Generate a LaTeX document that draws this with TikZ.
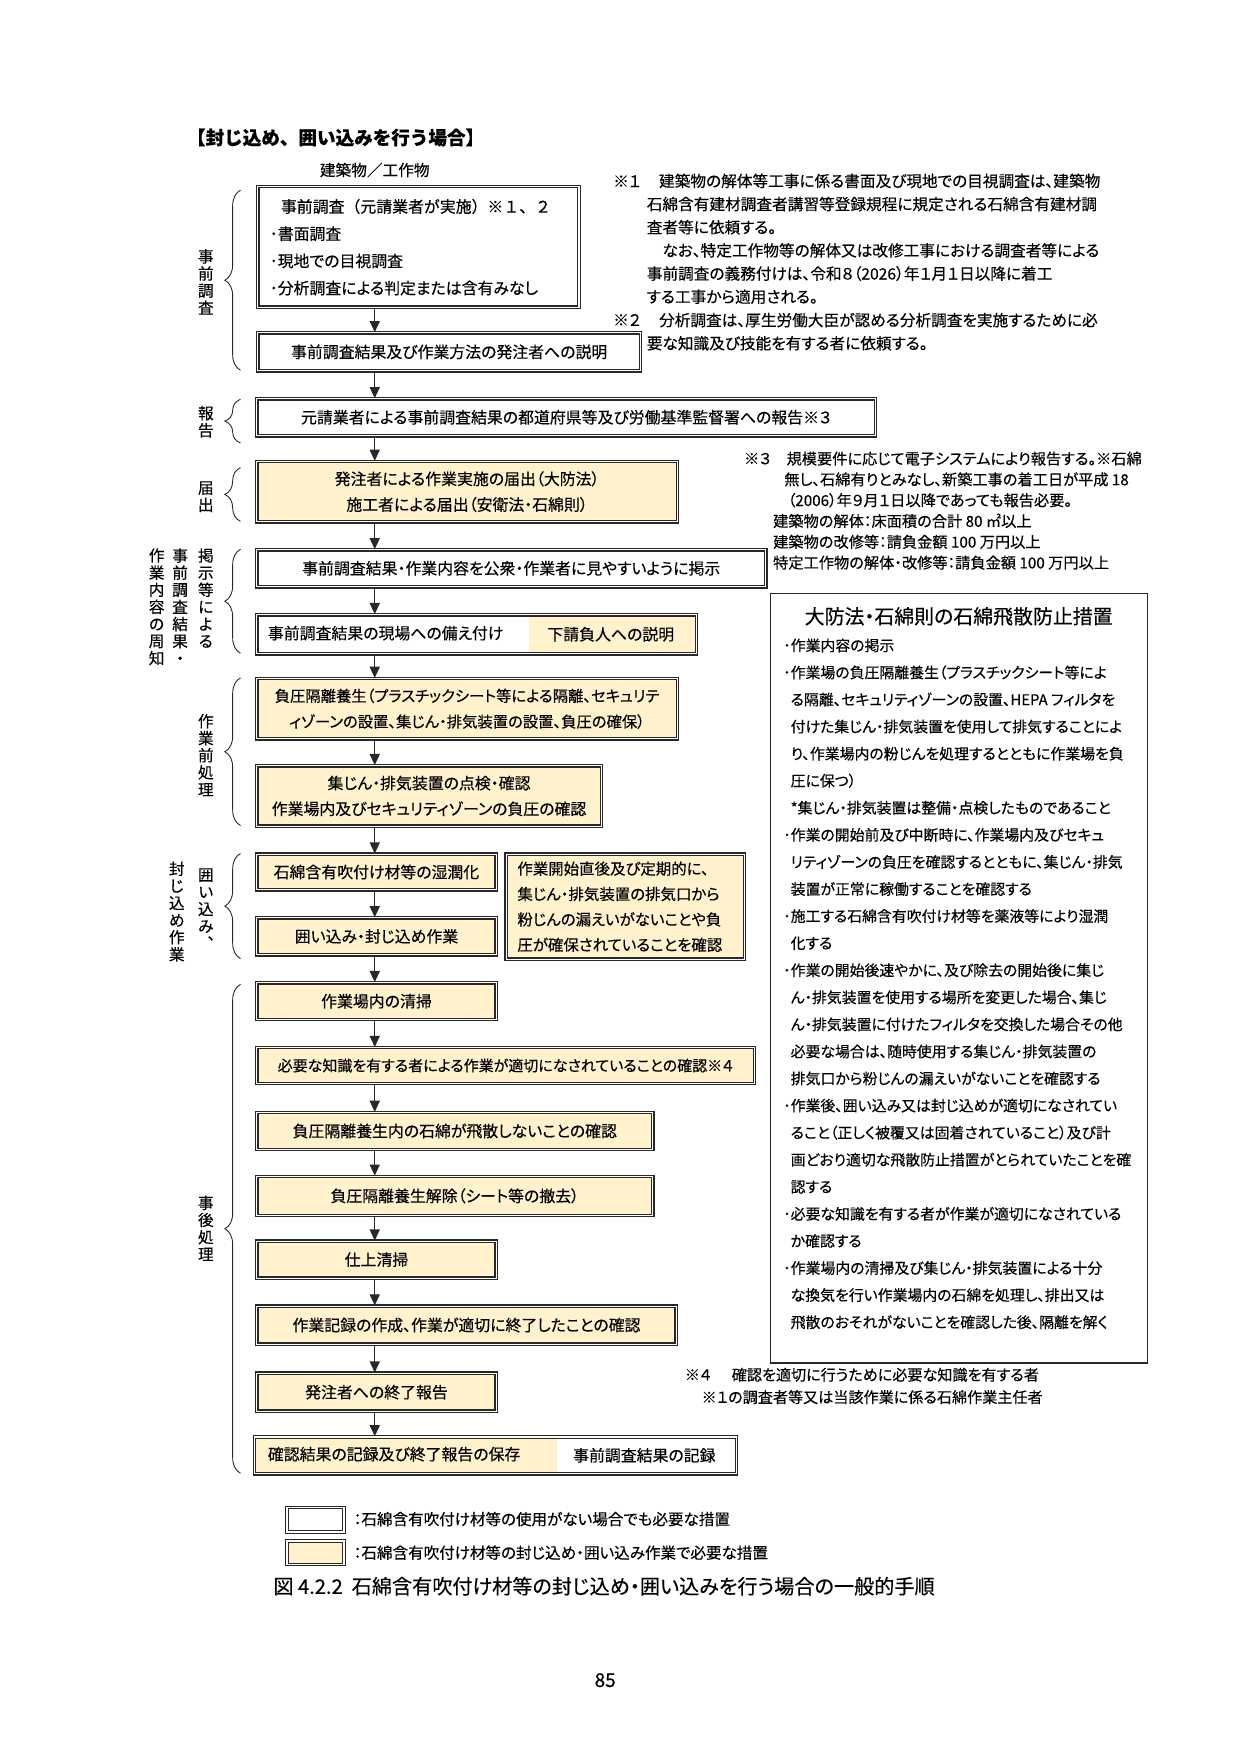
\documentclass[tikz,border=0pt]{standalone}
\usepackage{fontspec}
\setmainfont[RawFeature=+palt, FakeBold=0.3]{Noto Sans CJK JP}
\newfontfamily\jpfull[FakeBold=0.3]{Noto Sans CJK JP}
\usetikzlibrary{arrows.meta}
\usetikzlibrary{decorations.pathreplacing}
\definecolor{boxtan}{RGB}{255,242,204}
\definecolor{boxline}{RGB}{40,40,40}
\newcommand{\fsz}[2]{\fontsize{#1}{#2}\selectfont}

\tikzset{
  box/.style={draw=boxline, line width=1.1pt, double=white, double distance=1pt, fill=white, anchor=north west, inner sep=0pt, font=\fsz{14.2}{23}},
  tanbox/.style={box, fill=boxtan},
  arr/.style={-{Triangle[width=9pt,length=10pt]}, line width=1.3pt, boxline},
  brc/.style={decorate, decoration={brace, amplitude=14pt}, line width=0.8pt, boxline},
  tate/.style={align=center, inner sep=0pt, font=\fsz{14}{15.3}},
  note/.style={anchor=west, align=left, inner sep=0pt}
}

\begin{document}
\begin{tikzpicture}[x=1pt, y=-1pt]
\fill[white] (0,0) rectangle (1107.5,1568);
\useasboundingbox (0,0) rectangle (1107.5,1568);

\node[anchor=west, inner sep=0pt, font=\jpfull\bfseries\fsz{16.6}{18}] (midashi) at (167,123) {【封じ込め、囲い込みを行う場合】};
\node[font=\fsz{14}{16}] (taishou) at (335,152) {建築物／工作物};

\node[box, minimum width=287pt, minimum height=108pt] (chousa) at (230,166) {};
\node[note, font=\fsz{14.2}{24.3}] (chousa-t) at (241,221) {\hspace*{10pt}{\jpfull 事前調査（元請業者が実施）※１、２}\\･書面調査\\･現地での目視調査\\･分析調査による判定または含有みなし};
\node[box, minimum width=342pt, minimum height=34pt] (setsumei) at (230,297) {事前調査結果及び作業方法の発注者への説明};
\node[box, minimum width=553pt, minimum height=33pt] (houkoku) at (229,356) {元請業者による事前調査結果の都道府県等及び労働基準監督署への報告※３};
\node[tanbox, minimum width=376pt, minimum height=54pt, align=center] (todokede) at (229,412) {発注者による作業実施の届出（大防法）\\施工者による届出（安衛法・石綿則）};
\node[box, minimum width=455pt, minimum height=33pt] (keiji) at (229,491) {事前調査結果・作業内容を公衆・作業者に見やすいように掲示};
\node[box, minimum width=393pt, minimum height=35pt, path picture={\fill[boxtan] ([xshift=243pt]path picture bounding box.south west) rectangle (path picture bounding box.north east);}] (sonae) at (229,549) {};
\node[anchor=west, font=\fsz{14.2}{16}] (sonae-l) at (236,566) {事前調査結果の現場への備え付け};
\node[font=\fsz{14.2}{16}] (sonae-r) at (546,567) {下請負人への説明};
\node[tanbox, minimum width=376pt, minimum height=54pt, align=center, font=\fsz{13.7}{23}] (youjou) at (229,606) {負圧隔離養生（プラスチックシート等による隔離、セキュリテ\\ィゾーンの設置、集じん・排気装置の設置、負圧の確保）};
\node[tanbox, minimum width=308pt, minimum height=54pt, align=center] (tenken) at (229,684) {集じん・排気装置の点検・確認\\作業場内及びセキュリティゾーンの負圧の確認};
\node[tanbox, minimum width=214pt, minimum height=32pt] (shitsujun) at (229,763) {石綿含有吹付け材等の湿潤化};
\node[tanbox, minimum width=214pt, minimum height=33pt] (kakoikomi) at (229,820) {囲い込み・封じ込め作業};
\node[tanbox, inner xsep=10pt, text width=193pt, minimum height=94pt, align=left, font=\fsz{13.8}{22.7}] (haiki) at (452,763) {作業開始直後及び定期的に、\\集じん・排気装置の排気口から\\粉じんの漏えいがないことや負\\圧が確保されていることを確認};
\node[tanbox, minimum width=214pt, minimum height=33pt] (seisou) at (229,878) {作業場内の清掃};
\node[tanbox, minimum width=445pt, minimum height=32pt, font=\fsz{13.4}{16}] (tekisetsu) at (229,936) {必要な知識を有する者による作業が適切になされていることの確認※４};
\node[tanbox, minimum width=354pt, minimum height=33pt] (hisan) at (229,994) {負圧隔離養生内の石綿が飛散しないことの確認};
\node[tanbox, minimum width=354pt, minimum height=35pt] (kaijo) at (229,1051) {負圧隔離養生解除（シート等の撤去）};
\node[tanbox, minimum width=214pt, minimum height=33pt] (shiage) at (229,1109) {仕上清掃};
\node[tanbox, minimum width=375pt, minimum height=34pt] (kiroku) at (229,1167) {作業記録の作成、作業が適切に終了したことの確認};
\node[tanbox, minimum width=214pt, minimum height=34pt] (shuuryou) at (229,1227) {発注者への終了報告};
\node[tanbox, minimum width=431pt, minimum height=33pt, path picture={\fill[white] ([xshift=270pt]path picture bounding box.south west) rectangle (path picture bounding box.north east);}] (hozon) at (227,1284) {};
\node[anchor=west, font=\fsz{14.2}{16}] (hozon-l) at (236,1300) {確認結果の記録及び終了報告の保存};
\node[font=\fsz{14.2}{16}] (hozon-r) at (576,1301) {事前調査結果の記録};

\coordinate (ax) at (335,0);
\draw[arr] (chousa.south -| ax) -- (setsumei.north -| ax);
\draw[arr] (setsumei.south -| ax) -- (houkoku.north -| ax);
\draw[arr] (houkoku.south -| ax) -- (todokede.north -| ax);
\draw[arr] (todokede.south -| ax) -- (keiji.north -| ax);
\draw[arr] (keiji.south -| ax) -- (sonae.north -| ax);
\draw[arr] (sonae.south -| ax) -- (youjou.north -| ax);
\draw[arr] (youjou.south -| ax) -- (tenken.north -| ax);
\draw[arr] (tenken.south -| ax) -- (shitsujun.north -| ax);
\draw[arr] (shitsujun.south -| ax) -- (kakoikomi.north -| ax);
\draw[arr] (kakoikomi.south -| ax) -- (seisou.north -| ax);
\draw[arr] (seisou.south -| ax) -- (tekisetsu.north -| ax);
\draw[arr] (tekisetsu.south -| ax) -- (hisan.north -| ax);
\draw[arr] (hisan.south -| ax) -- (kaijo.north -| ax);
\draw[arr] (kaijo.south -| ax) -- (shiage.north -| ax);
\draw[arr] (shiage.south -| ax) -- (kiroku.north -| ax);
\draw[arr] (kiroku.south -| ax) -- (shuuryou.north -| ax);
\draw[arr] (shuuryou.south -| ax) -- (hozon.north -| ax);

\draw[brc] (215,331) -- (215,170);
\draw[brc] (215,396) -- (215,357);
\draw[brc] (215,466) -- (215,418);
\draw[brc] (215,584) -- (215,491);
\draw[brc] (215,738) -- (215,606);
\draw[brc] (215,857) -- (215,763);
\draw[brc] (215,1317) -- (215,880);

\node[tate] (l-chousa) at (184,252) {事\\前\\調\\査};
\node[tate] (l-houkoku) at (184,377) {報\\告};
\node[tate] (l-todokede) at (184,444) {届\\出};
\node[tate, anchor=north] (l-keiji1) at (184,490) {掲\\示\\等\\に\\よ\\る};
\node[tate, anchor=north] (l-keiji2) at (161,490) {事\\前\\調\\査\\結\\果\\・};
\node[tate, anchor=north] (l-keiji3) at (140,490) {作\\業\\内\\容\\の\\周\\知};
\node[tate] (l-zenshori) at (184,675) {作\\業\\前\\処\\理};
\node[tate, anchor=north] (l-kakoi1) at (184,776) {囲\\い\\込\\み\\︑};
\node[tate, anchor=north] (l-kakoi2) at (158,770) {封\\じ\\込\\め\\作\\業};
\node[tate] (l-jigo) at (184,1098) {事\\後\\処\\理};

\node[anchor=west, inner sep=0pt, font=\fsz{14}{16}] (chuu1-k) at (548,162) {※１};
\node[note, font=\fsz{14}{20.7}] (chuu1) at (578,213.5) {\hspace*{11pt}建築物の解体等工事に係る書面及び現地での目視調査は、建築物\\石綿含有建材調査者講習等登録規程に規定される石綿含有建材調\\査者等に依頼する。\\\hspace*{14pt}なお、特定工作物等の解体又は改修工事における調査者等による\\事前調査の義務付けは、令和８（2026）年１月１日以降に着工\\する工事から適用される。};
\node[anchor=west, inner sep=0pt, font=\fsz{14}{16}] (chuu2-k) at (548,286) {※２};
\node[note, font=\fsz{14}{20.7}] (chuu2) at (578,296.5) {\hspace*{11pt}分析調査は、厚生労働大臣が認める分析調査を実施するために必\\要な知識及び技能を有する者に依頼する。};

\node[anchor=west, inner sep=0pt, font=\fsz{13.6}{16}] (chuu3-k) at (665,410) {※３};
\node[note, font=\fsz{13.6}{18.6}] (chuu3) at (691,456.5) {\hspace*{12pt}規模要件に応じて電子システムにより報告する。※石綿\\\hspace*{10pt}無し、石綿有りとみなし、新築工事の着工日が平成 18\\\hspace*{13pt}（2006）年９月１日以降であっても報告必要。\\建築物の解体：床面積の合計 80 ㎡以上\\建築物の改修等：請負金額 100 万円以上\\特定工作物の解体・改修等：請負金額 100 万円以上};

\node[draw=boxline, line width=1.1pt, anchor=north west, minimum width=337pt, minimum height=688pt, inner sep=0pt] (sochi) at (688,530) {};
\node[font=\fsz{17.8}{20}] (sochi-t) at (857,551) {大防法・石綿則の石綿飛散防止措置};
\node[note, font=\fsz{13.3}{24.2}] (sochi-l) at (700,879.5) {･作業内容の掲示\\
･作業場の負圧隔離養生（プラスチックシート等によ\\
\hspace*{0.5em}る隔離、セキュリティゾーンの設置、HEPA フィルタを\\
\hspace*{0.5em}付けた集じん・排気装置を使用して排気することによ\\
\hspace*{0.5em}り、作業場内の粉じんを処理するとともに作業場を負\\
\hspace*{0.5em}圧に保つ）\\
\hspace*{0.5em}*集じん・排気装置は整備・点検したものであること\\
･作業の開始前及び中断時に、作業場内及びセキュ\\
\hspace*{0.5em}リティゾーンの負圧を確認するとともに、集じん・排気\\
\hspace*{0.5em}装置が正常に稼働することを確認する\\
･施工する石綿含有吹付け材等を薬液等により湿潤\\
\hspace*{0.5em}化する\\
･作業の開始後速やかに、及び除去の開始後に集じ\\
\hspace*{0.5em}ん・排気装置を使用する場所を変更した場合、集じ\\
\hspace*{0.5em}ん・排気装置に付けたフィルタを交換した場合その他\\
\hspace*{0.5em}必要な場合は、随時使用する集じん・排気装置の\\
\hspace*{0.5em}排気口から粉じんの漏えいがないことを確認する\\
･作業後、囲い込み又は封じ込めが適切になされてい\\
\hspace*{0.5em}ること（正しく被覆又は固着されていること）及び計\\
\hspace*{0.5em}画どおり適切な飛散防止措置がとられていたことを確\\
\hspace*{0.5em}認する\\
･必要な知識を有する者が作業が適切になされている\\
\hspace*{0.5em}か確認する\\
･作業場内の清掃及び集じん・排気装置による十分\\
\hspace*{0.5em}な換気を行い作業場内の石綿を処理し、排出又は\\
\hspace*{0.5em}飛散のおそれがないことを確認した後、隔離を解く};

\node[anchor=west, inner sep=0pt, font=\fsz{13.5}{16}] (chuu4-k) at (612,1229) {※４};
\node[note, font=\fsz{13.5}{20}] (chuu4) at (627,1239) {\hspace*{27pt}確認を適切に行うために必要な知識を有する者\\※１の調査者等又は当該作業に係る石綿作業主任者};

\node[box, minimum width=51pt, minimum height=22pt] (hanrei1) at (256,1347) {};
\node[tanbox, minimum width=51pt, minimum height=21pt] (hanrei2) at (256,1377) {};
\node[anchor=west, inner sep=0pt, font=\fsz{13.9}{16}] (hanrei1-t) at (316,1358) {：石綿含有吹付け材等の使用がない場合でも必要な措置};
\node[anchor=west, inner sep=0pt, font=\fsz{13.9}{16}] (hanrei2-t) at (316,1388) {：石綿含有吹付け材等の封じ込め・囲い込み作業で必要な措置};
\node[font=\fsz{18}{20}] (zu) at (540,1418) {図 4.2.2\hspace{8pt}石綿含有吹付け材等の封じ込め・囲い込みを行う場合の一般的手順};
\node[font=\fsz{17}{20}] (page) at (541,1502) {85};
\end{tikzpicture}
\end{document}
